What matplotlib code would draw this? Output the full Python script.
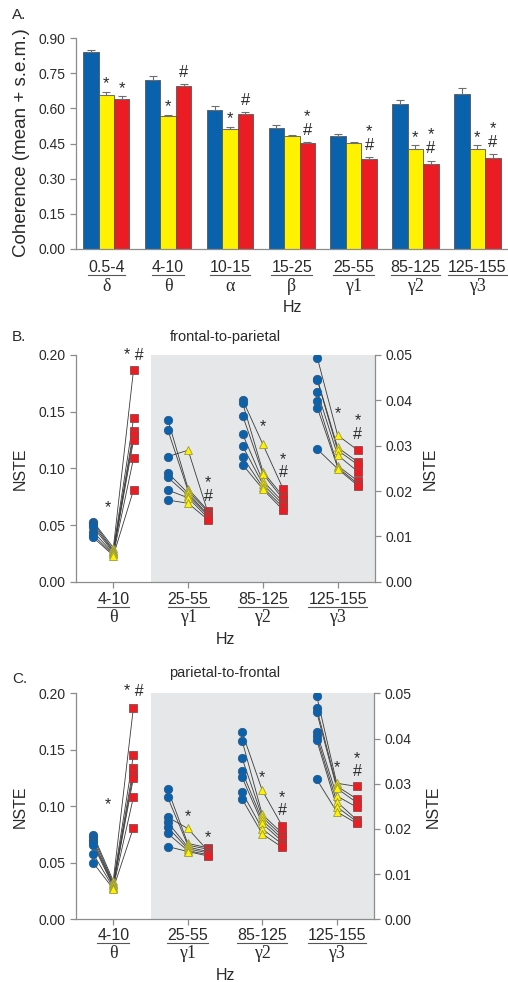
import numpy as np
import matplotlib

matplotlib.use("Agg")
import matplotlib.pyplot as plt  # noqa: E402
from matplotlib.lines import Line2D  # noqa: E402

plt.rcParams["font.family"] = ["Liberation Sans", "DejaVu Sans"]
SERIF = ["Liberation Serif", "DejaVu Serif"]

BLUE, YELLOW, RED = "#0a62ad", "#fff200", "#ec1c24"
GRAY_BG = "#e6e7e8"
AXIS_C = "#8c8c8c"
TXT_C = "#2a2a2a"

# --------------------------------------------------------------------------- #
# Panel A - coherence per band (mean + s.e.m.)
# --------------------------------------------------------------------------- #
bands_a = ["0.5-4", "4-10", "10-15", "15-25", "25-55", "85-125", "125-155"]
greek_a = ["δ", "θ", "α", "β", "γ1", "γ2", "γ3"]
coh_blue = [0.839, 0.721, 0.591, 0.515, 0.481, 0.617, 0.663]
coh_yellow = [0.658, 0.566, 0.512, 0.481, 0.451, 0.425, 0.427]
coh_red = [0.638, 0.695, 0.577, 0.451, 0.385, 0.364, 0.387]
sem_blue = [0.011, 0.017, 0.019, 0.014, 0.009, 0.020, 0.022]
sem_yellow = [0.013, 0.006, 0.010, 0.007, 0.004, 0.017, 0.015]
sem_red = [0.013, 0.007, 0.007, 0.005, 0.006, 0.013, 0.018]
sig_yellow_a = ["*", "*", "*", "", "", "*", "*"]
sig_red_a = ["*", "#", "#", "*#", "*#", "*#", "*#"]

# --------------------------------------------------------------------------- #
# Panels B / C - NSTE per animal (7 animals), theta on left axis, gammas right
# --------------------------------------------------------------------------- #
bands_b = ["4-10", "25-55", "85-125", "125-155"]
greek_b = ["θ", "γ1", "γ2", "γ3"]

fp_blue = [
    [0.053, 0.052, 0.050, 0.048, 0.044, 0.041, 0.039],
    [0.0357, 0.0334, 0.0276, 0.0240, 0.0230, 0.0202, 0.0180],
    [0.0401, 0.0394, 0.0366, 0.0325, 0.0299, 0.0275, 0.0258],
    [0.0493, 0.0446, 0.0444, 0.0418, 0.0399, 0.0383, 0.0292],
]
fp_yellow = [
    [0.030, 0.028, 0.027, 0.026, 0.025, 0.024, 0.023],
    [0.0205, 0.0200, 0.0290, 0.0195, 0.0190, 0.0185, 0.0173],
    [0.0303, 0.0243, 0.0238, 0.0222, 0.0215, 0.0208, 0.0204],
    [0.0323, 0.0296, 0.0290, 0.0279, 0.0256, 0.0252, 0.0249],
]
fp_red = [
    [0.187, 0.144, 0.133, 0.129, 0.125, 0.109, 0.081],
    [0.0156, 0.0153, 0.0150, 0.0147, 0.0145, 0.0140, 0.0136],
    [0.0205, 0.0188, 0.0182, 0.0176, 0.0170, 0.0164, 0.0158],
    [0.0290, 0.0264, 0.0258, 0.0243, 0.0222, 0.0216, 0.0212],
]
# (band, 0=yellow / 1=red, symbol, height in that band's axis units)
fp_marks = [
    (0, 0, "*", 0.0685), (0, 1, "* #", 0.200),
    (1, 1, "*", 0.0228), (1, 1, "#", 0.0189),
    (2, 0, "*", 0.0351), (2, 1, "*", 0.0279), (2, 1, "#", 0.0240),
    (3, 0, "*", 0.0379), (3, 1, "*", 0.0364), (3, 1, "#", 0.0325),
]

pf_blue = [
    [0.075, 0.073, 0.070, 0.068, 0.066, 0.058, 0.050],
    [0.0288, 0.0270, 0.0226, 0.0215, 0.0204, 0.0190, 0.0161],
    [0.0414, 0.0395, 0.0356, 0.0327, 0.0314, 0.0281, 0.0266],
    [0.0495, 0.0467, 0.0459, 0.0414, 0.0405, 0.0397, 0.0310],
]
pf_yellow = [
    [0.034, 0.032, 0.031, 0.030, 0.029, 0.028, 0.027],
    [0.0168, 0.0164, 0.0201, 0.0160, 0.0156, 0.0152, 0.0150],
    [0.0285, 0.0232, 0.0226, 0.0219, 0.0212, 0.0200, 0.0189],
    [0.0301, 0.0295, 0.0290, 0.0273, 0.0260, 0.0249, 0.0238],
]
pf_red = [
    [0.187, 0.145, 0.134, 0.129, 0.125, 0.108, 0.081],
    [0.0158, 0.0155, 0.0152, 0.0150, 0.0147, 0.0143, 0.0140],
    [0.0206, 0.0190, 0.0184, 0.0178, 0.0172, 0.0166, 0.0159],
    [0.0294, 0.0266, 0.0258, 0.0248, 0.0220, 0.0216, 0.0212],
]
pf_marks = [
    (0, 0, "*", 0.105), (0, 1, "* #", 0.2015),
    (1, 0, "*", 0.0236), (1, 1, "*", 0.0190),
    (2, 0, "*", 0.0323), (2, 1, "*", 0.0279), (2, 1, "#", 0.0240),
    (3, 0, "*", 0.0345), (3, 1, "*", 0.0365), (3, 1, "#", 0.0327),
]

W, H = 508, 982
fig = plt.figure(figsize=(W / 100, H / 100), dpi=100)


def fy(py):
    """pixel row (from top) -> figure fraction"""
    return 1 - py / H


def style_axis(ax):
    for s in ax.spines.values():
        s.set_color(AXIS_C)
        s.set_linewidth(0.9)
    ax.tick_params(colors=AXIS_C, labelcolor=TXT_C, direction="out", length=4, width=0.9)


underlined = []


def band_labels(ax, ranges, greeks, y_rng, y_grk, fs=11.5):
    trans = matplotlib.transforms.blended_transform_factory(ax.transData, fig.transFigure)
    for i, (r, g) in enumerate(zip(ranges, greeks)):
        t = ax.text(i, fy(y_rng), r, transform=trans, ha="center", va="center",
                    fontsize=fs, color=TXT_C)
        underlined.append(t)
        ax.text(i, fy(y_grk), g, transform=trans, ha="center", va="center",
                fontsize=13, color=TXT_C, family=SERIF)


# ---------------------------- Panel A ---------------------------------------
axA = fig.add_axes([76 / W, fy(249), 431 / W, 211 / H])
x = np.arange(len(bands_a))
bw = 0.25
for off, vals, err, col in [(-bw, coh_blue, sem_blue, BLUE),
                            (0, coh_yellow, sem_yellow, YELLOW),
                            (bw, coh_red, sem_red, RED)]:
    axA.bar(x + off, vals, bw, color=col, edgecolor="#555555", linewidth=0.6,
            yerr=[np.zeros(len(err)), err],
            error_kw=dict(ecolor="#6e6e6e", elinewidth=0.8, capsize=3, capthick=0.8),
            zorder=2)

for i in range(len(bands_a)):
    if sig_yellow_a[i]:
        axA.text(i, coh_yellow[i] + sem_yellow[i] + 0.035, "*", ha="center", va="center",
                 fontsize=12, color=TXT_C)
    stack = sig_red_a[i][::-1]
    base = coh_red[i] + sem_red[i] + 0.05
    for k, s in enumerate(stack):
        yy = base + 0.075 * k
        if s == "*":
            yy -= 0.015
        axA.text(i + bw, yy, s, ha="center", va="center", fontsize=12, color=TXT_C)

axA.set_xlim(-0.49, 6.48)
axA.set_ylim(0, 0.9)
axA.set_yticks(np.arange(0, 0.91, 0.15))
axA.set_yticklabels([f"{v:.2f}" for v in np.arange(0, 0.91, 0.15)], fontsize=10)
axA.set_xticks([])
axA.spines["top"].set_visible(False)
axA.spines["right"].set_visible(False)
style_axis(axA)
band_labels(axA, bands_a, greek_a, 268, 286)
fig.text(292 / W, fy(307), "Hz", ha="center", va="center", fontsize=11.5, color=TXT_C)
fig.text(22 / W, fy(143), "Coherence (mean + s.e.m.)", rotation=90, ha="center",
         va="center", fontsize=13.5, color=TXT_C)
fig.text(12 / W, fy(15), "A.", ha="left", va="center", fontsize=11, color=TXT_C)


# ---------------------------- Panels B / C ----------------------------------
def nste_panel(rect, blue, yellow, red, marks, title, letter, y_title, y_letter,
               y_rng, y_grk, y_hz, x_rlab):
    ax = fig.add_axes(rect)
    ax2 = ax.twinx()
    ax.axvspan(0.5, 3.5, color=GRAY_BG, zorder=0, lw=0)
    off = 0.27
    for b in range(len(bands_b)):
        a = ax if b == 0 else ax2
        xs = [b - off, b, b + off]
        for v0, v1, v2 in zip(blue[b], yellow[b], red[b]):
            a.plot(xs, [v0, v1, v2], color="#3a3a3a", lw=0.6, zorder=2)
        a.plot([b - off] * 7, blue[b], ls="none", marker="o", ms=6, mfc=BLUE,
               mec="#2b5a86", mew=0.6, zorder=3)
        a.plot([b] * 7, yellow[b], ls="none", marker="^", ms=6, mfc=YELLOW,
               mec="#9c9a3c", mew=0.6, zorder=3)
        a.plot([b + off] * 7, red[b], ls="none", marker="s", ms=5.5, mfc=RED,
               mec="#8c4a4a", mew=0.6, zorder=3)
    for b, ser, sym, yy in marks:
        a = ax if b == 0 else ax2
        xx = b + (0 if ser == 0 else off)
        if b == 0 and ser == 0:
            xx -= 0.07
        rng = 0.2 if b == 0 else 0.05
        if "*" in sym and "#" not in sym:
            yy -= 0.018 * rng
        a.text(xx, yy, sym, ha="center", va="center", fontsize=11.5, color=TXT_C,
               zorder=4)

    ax.set_xlim(-0.5, 3.5)
    ax.set_ylim(0, 0.2)
    ax2.set_ylim(0, 0.05)
    lt = np.arange(0, 0.201, 0.05)
    rt = np.arange(0, 0.0501, 0.01)
    ax.set_yticks(lt)
    ax.set_yticklabels([f"{v:.2f}" for v in lt], fontsize=10)
    ax2.set_yticks(rt)
    ax2.set_yticklabels([f"{v:.2f}" for v in rt], fontsize=10)
    ax.set_xticks(range(len(bands_b)))
    ax.set_xticklabels([])
    for s in ["top", "right"]:
        ax.spines[s].set_visible(False)
    for s in ["top", "left", "bottom"]:
        ax2.spines[s].set_visible(False)
    style_axis(ax)
    style_axis(ax2)
    band_labels(ax, bands_b, greek_b, y_rng, y_grk)
    fig.text(225 / W, fy(y_hz), "Hz", ha="center", va="center", fontsize=11.5, color=TXT_C)
    fig.text(225 / W, fy(y_title), title, ha="center", va="center", fontsize=10.5,
             color=TXT_C)
    fig.text(12 / W, fy(y_letter), letter, ha="left", va="center", fontsize=11, color=TXT_C)
    ymid = rect[1] + rect[3] / 2
    fig.text(20 / W, ymid, "NSTE", rotation=90, ha="center", va="center", fontsize=11.5,
             color=TXT_C)
    fig.text(x_rlab / W, ymid, "NSTE", rotation=90, ha="center", va="center",
             fontsize=11.5, color=TXT_C)


nste_panel([76 / W, fy(581.7), 299 / W, 226.7 / H], fp_blue, fp_yellow, fp_red, fp_marks,
           "frontal-to-parietal", "B.", 337, 337, 600, 618, 640, 430)
nste_panel([76 / W, fy(919.3), 298 / W, 226 / H], pf_blue, pf_yellow, pf_red, pf_marks,
           "parietal-to-frontal", "C.", 673, 679, 936, 954, 975, 433)

# underline the Hz ranges
fig.canvas.draw()
rend = fig.canvas.get_renderer()
for t in underlined:
    bb = t.get_window_extent(rend)
    yline = bb.y0 + 1.0
    fig.add_artist(Line2D([bb.x0 / W, bb.x1 / W], [yline / H, yline / H],
                          transform=fig.transFigure, color="#555555", lw=0.8))

fig.savefig("out.png", dpi=100)
